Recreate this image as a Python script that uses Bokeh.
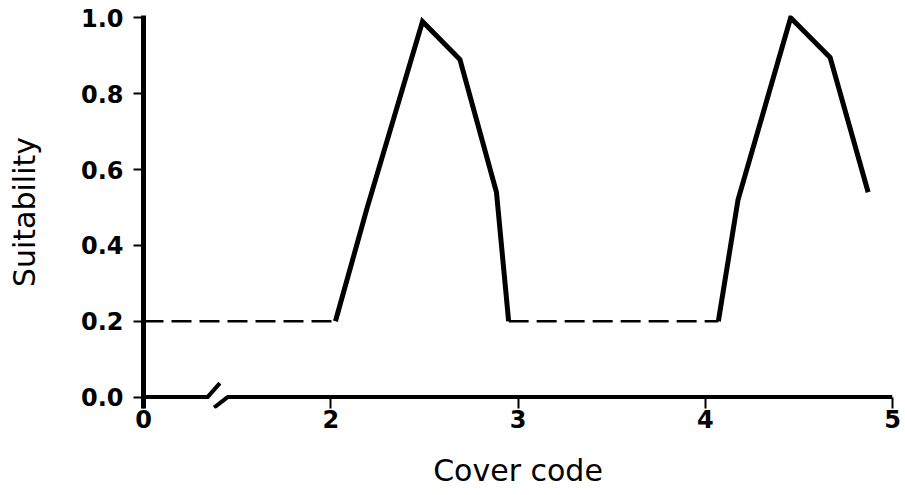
from bokeh.plotting import figure
from bokeh.models import Range1d, FixedTicker, NumeralTickFormatter
from bokeh.embed import file_html
from bokeh.resources import INLINE

# ---- data ----
cover_ticks = [0, 2, 3, 4, 5]
cover_tick_labels = ["0", "2", "3", "4", "5"]
suit_ticks = [0.0, 0.2, 0.4, 0.6, 0.8, 1.0]

base1_x = [0, 2.025]
base1_y = [0.2, 0.2]
peak1_x = [2.025, 2.195, 2.49, 2.69, 2.885, 2.95]
peak1_y = [0.20, 0.50, 0.99, 0.89, 0.54, 0.20]
base2_x = [2.95, 4.07]
base2_y = [0.2, 0.2]
peak2_x = [4.07, 4.175, 4.456, 4.667, 4.87]
peak2_y = [0.20, 0.52, 1.00, 0.895, 0.54]

# broken x axis: values below the break are shifted so that 0 sits at 1
BREAK_SHIFT = 1


def disp(v):
    return v + BREAK_SHIFT if v < 1 else v


def dl(xs):
    return [disp(v) for v in xs]


Y_LOW = -0.03   # room below the x axis for the break mark and ticks

p = figure(frame_width=749, frame_height=393,
           x_range=Range1d(1, 5), y_range=Range1d(Y_LOW, 1.006),
           output_backend="svg", toolbar_location=None,
           min_border_left=143, min_border_top=15, min_border_right=12,
           min_border_bottom=75, background_fill_color="white",
           border_fill_color="white")
p.outline_line_color = None
p.xgrid.visible = False
p.ygrid.visible = False

# ---- axes ----
xa = p.xaxis[0]
xa.ticker = FixedTicker(ticks=dl(cover_ticks))
xa.major_label_overrides = {disp(v): lab for v, lab in zip(cover_ticks, cover_tick_labels)}
xa.axis_line_alpha = 0          # the axis line (with its break) is drawn at y = 0 below
xa.minor_tick_line_color = None
xa.major_tick_in = 11
xa.major_tick_out = 0
xa.major_tick_line_width = 2
xa.major_tick_line_color = "black"
xa.major_label_standoff = 1
xa.major_label_text_font = "DejaVu Sans"
xa.major_label_text_font_style = "bold"
xa.major_label_text_font_size = "24px"
xa.major_label_text_color = "black"
xa.axis_label = "Cover code"
xa.axis_label_text_font = "DejaVu Sans"
xa.axis_label_text_font_style = "normal"
xa.axis_label_text_font_size = "30px"
xa.axis_label_text_color = "black"
xa.axis_label_standoff = 22

ya = p.yaxis[0]
ya.ticker = FixedTicker(ticks=suit_ticks)
ya.formatter = NumeralTickFormatter(format="0.0")
ya.axis_line_color = "black"
ya.axis_line_width = 5
ya.minor_tick_line_color = None
ya.major_tick_in = 0
ya.major_tick_out = 10
ya.major_tick_line_width = 2
ya.major_tick_line_color = "black"
ya.major_label_standoff = 10
ya.major_label_text_font = "DejaVu Sans"
ya.major_label_text_font_style = "bold"
ya.major_label_text_font_size = "24px"
ya.major_label_text_color = "black"
ya.axis_label = "Suitability"
ya.axis_label_text_font = "DejaVu Sans"
ya.axis_label_text_font_style = "normal"
ya.axis_label_text_font_size = "30px"
ya.axis_label_text_color = "black"
ya.axis_label_standoff = 36

# ---- x axis line with break ----
brk_l, brk_r = 1.342, 1.449
sl_dx, sl_dy = 0.066, 0.037
p.line([1, brk_l, brk_l + sl_dx], [0, 0, sl_dy], line_color="black", line_width=4,
       line_join="round")
p.line([brk_r - 0.072, brk_r, 5], [-sl_dy * 0.75, 0, 0], line_color="black", line_width=4,
       line_join="round")

# ---- series ----
p.line(dl(base1_x), base1_y, line_color="black", line_width=2.7, line_dash="20 8")
p.line(dl(base2_x), base2_y, line_color="black", line_width=2.7, line_dash="20 8")
p.line(dl(peak1_x), peak1_y, line_color="black", line_width=5, line_join="miter")
p.line(dl(peak2_x), peak2_y, line_color="black", line_width=5, line_join="miter")

open("out.html", "w").write(file_html(p, INLINE))
